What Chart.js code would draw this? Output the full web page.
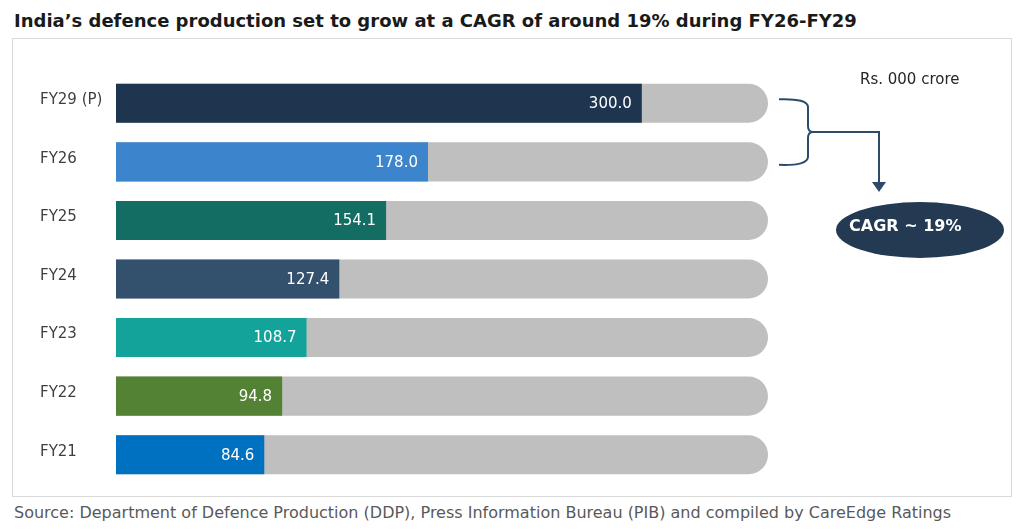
<!DOCTYPE html>
<html>
<head>
<meta charset="utf-8">
<script src="https://cdn.jsdelivr.net/npm/chart.js@4/dist/chart.umd.min.js"></script>
<style>
  html, body { margin: 0; padding: 0; background: #ffffff; }
  body { width: 1024px; height: 530px; position: relative; overflow: hidden; font-family: 'DejaVu Sans', sans-serif; }
  #title { position: absolute; left: 14px; top: 10px; font-size: 18px; font-weight: bold; color: #1a1a1a; white-space: nowrap; }
  #frame { position: absolute; left: 12px; top: 38px; width: 998px; height: 457px; border: 1px solid #d9d9d9; }
  #chart { position: absolute; left: 12px; top: 38px; }
  #source { position: absolute; left: 14px; top: 503px; font-size: 16px; color: #595959; white-space: nowrap; }
</style>
</head>
<body>
<div id="title">India’s defence production set to grow at a CAGR of around 19% during FY26-FY29</div>
<div id="frame"></div>
<canvas id="chart" width="1000" height="459"></canvas>
<div id="source">Source: Department of Defence Production (DDP), Press Information Bureau (PIB) and compiled by CareEdge Ratings</div>
<script>
const categories = ['FY29 (P)', 'FY26', 'FY25', 'FY24', 'FY23', 'FY22', 'FY21'];
const production = [300.0, 178.0, 154.1, 127.4, 108.7, 94.8, 84.6];
const barColors = ['#1e3550', '#3c84cc', '#136d63', '#33506c', '#14a39a', '#548235', '#0070c0'];
const trackMax = 372;
const track = categories.map(() => trackMax);

// value labels inside the bar ends + the bracket / CAGR note on the right
const extras = {
    id: 'extras',
    afterDatasetsDraw(chart) {
        const c = chart.ctx;
        const meta = chart.getDatasetMeta(0);
        c.save();
        c.font = '15px "DejaVu Sans"';
        c.fillStyle = '#ffffff';
        c.textAlign = 'right';
        c.textBaseline = 'middle';
        meta.data.forEach((bar, i) => {
            c.fillText(production[i].toFixed(1), bar.x - 10, bar.y + 1);
        });
        c.restore();
    },
    afterDraw(chart) {
        const c = chart.ctx;
        const meta = chart.getDatasetMeta(0);
        const x0 = chart.scales.x.getPixelForValue(trackMax) + 11;
        const top = meta.data[0].y - 4;
        const bot = meta.data[1].y + 3;
        const mid = (top + bot) / 2;
        c.save();
        c.strokeStyle = '#2e4a6b';
        c.fillStyle = '#2e4a6b';
        c.lineWidth = 2;
        // curly bracket
        c.beginPath();
        c.moveTo(x0, top);
        c.quadraticCurveTo(x0 + 29, top - 1, x0 + 29, top + 8);
        c.lineTo(x0 + 29, mid - 6);
        c.quadraticCurveTo(x0 + 29, mid, x0 + 34, mid);
        c.quadraticCurveTo(x0 + 29, mid, x0 + 29, mid + 6);
        c.lineTo(x0 + 29, bot - 8);
        c.quadraticCurveTo(x0 + 29, bot + 1, x0, bot);
        c.stroke();
        // elbow arrow
        const ax = x0 + 100;
        c.beginPath();
        c.moveTo(x0 + 34, mid);
        c.lineTo(ax, mid);
        c.lineTo(ax, mid + 52);
        c.stroke();
        c.beginPath();
        c.moveTo(ax - 7, mid + 50);
        c.lineTo(ax + 7, mid + 50);
        c.lineTo(ax, mid + 60);
        c.closePath();
        c.fill();
        // unit note
        c.fillStyle = '#262626';
        c.font = '15px "DejaVu Sans"';
        c.textAlign = 'left';
        c.textBaseline = 'middle';
        c.fillText('Rs. 000 crore', 848, 42);
        // CAGR ellipse
        c.fillStyle = '#243a52';
        c.beginPath();
        c.ellipse(908, 192, 84, 28, 0, 0, Math.PI * 2);
        c.fill();
        c.fillStyle = '#ffffff';
        c.font = 'bold 16px "DejaVu Sans"';
        c.fillText('CAGR ~ 19%', 837, 189);
        c.restore();
    }
};

const ctx = document.getElementById('chart').getContext('2d');
const myChart = new Chart(ctx, {
    type: 'bar',
    data: {
        labels: categories,
        datasets: [{
            label: 'Defence production',
            data: production,
            backgroundColor: barColors,
            borderWidth: 0,
            barPercentage: 0.667,
            categoryPercentage: 1,
            order: 0
        }, {
            label: 'Track',
            data: track,
            backgroundColor: '#bfbfbf',
            borderWidth: 0,
            borderRadius: 20,
            borderSkipped: 'start',
            barPercentage: 0.667,
            categoryPercentage: 1,
            order: 1
        }]
    },
    options: {
        indexAxis: 'y',
        responsive: false,
        animation: false,
        layout: { padding: { left: 28, right: 244, top: 36, bottom: 13 } },
        plugins: { legend: { display: false }, tooltip: { enabled: false } },
        scales: {
            x: { display: false, min: 0, max: trackMax, stacked: false },
            y: {
                stacked: true,
                grid: { display: false, drawBorder: false },
                border: { display: false },
                ticks: { color: '#404040', crossAlign: 'far', labelOffset: -3, font: { family: 'DejaVu Sans', size: 15 } },
                afterFit(scale) { scale.width = 76; }
            }
        }
    },
    plugins: [extras]
});
</script>
</body>
</html>
